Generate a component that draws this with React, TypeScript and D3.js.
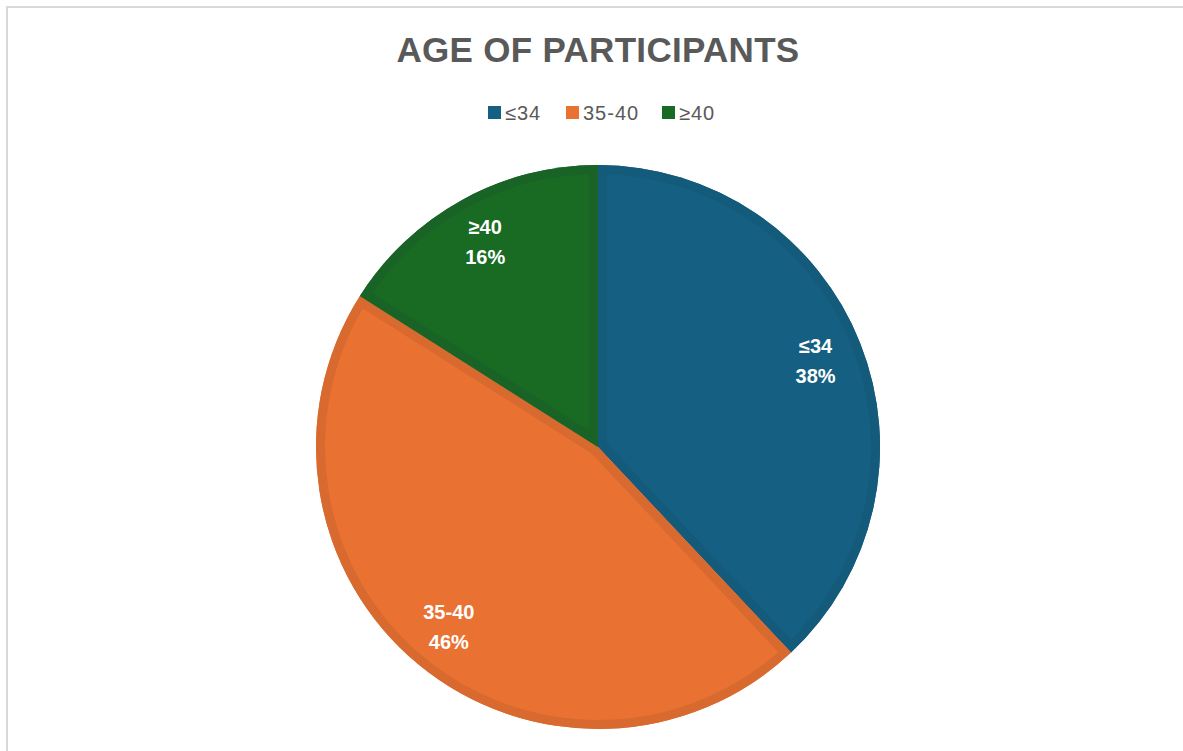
import React, { useEffect, useRef } from "react";
import * as d3 from "d3";

const categories = ["≤34", "35-40", "≥40"];
const values = [38, 46, 16];
const colors = ["#156082", "#E97132", "#196B24"];
const edgeColors = ["#145a7a", "#d8692f", "#186325"];

const App: React.FC = () => {
  const svgRef = useRef<SVGSVGElement | null>(null);

  useEffect(() => {
    if (!svgRef.current) return;
    const width = 1183;
    const height = 751;
    const cx = 598;
    const cy = 447;
    const radius = 282;

    const root = d3.select(svgRef.current);
    root.selectAll("*").remove();
    root.attr("width", width).attr("height", height);

    root.append("rect").attr("width", width).attr("height", height).attr("fill", "#fff");
    root
      .append("rect")
      .attr("x", 7)
      .attr("y", 7)
      .attr("width", width + 20)
      .attr("height", height + 20)
      .attr("fill", "none")
      .attr("stroke", "#d9d9d9")
      .attr("stroke-width", 2);

    const font = "'Liberation Sans', Arial, sans-serif";

    root
      .append("text")
      .attr("x", cx)
      .attr("y", 62)
      .attr("text-anchor", "middle")
      .attr("font-family", font)
      .attr("font-weight", "bold")
      .attr("font-size", 35)
      .attr("letter-spacing", 0.3)
      .attr("fill", "#595959")
      .text("AGE OF PARTICIPANTS");

    // legend
    const legendX = [488, 566, 662];
    const legend = root.append("g");
    categories.forEach((c, i) => {
      legend
        .append("rect")
        .attr("x", legendX[i])
        .attr("y", 106)
        .attr("width", 13)
        .attr("height", 13)
        .attr("fill", colors[i]);
      legend
        .append("text")
        .attr("x", legendX[i] + 17)
        .attr("y", 120)
        .attr("font-family", font)
        .attr("font-size", 20)
        .attr("letter-spacing", 1)
        .attr("fill", "#595959")
        .text(c);
    });

    const pie = d3.pie<number>().sort(null).value((d) => d);
    const arcs = pie(values);
    const arc = d3.arc<d3.PieArcDatum<number>>().innerRadius(0).outerRadius(radius);
    const labelArc = d3
      .arc<d3.PieArcDatum<number>>()
      .innerRadius(radius * 0.83)
      .outerRadius(radius * 0.83);

    const g = root.append("g").attr("transform", `translate(${cx},${cy})`);
    const defs = root.append("defs");

    arcs.forEach((a, i) => {
      const id = `clip-${i}`;
      defs.append("clipPath").attr("id", id).append("path").attr("d", arc(a)!);
      g.append("path").attr("d", arc(a)!).attr("fill", colors[i]);
      g.append("path")
        .attr("d", arc(a)!)
        .attr("fill", "none")
        .attr("stroke", edgeColors[i])
        .attr("stroke-width", 18)
        .attr("stroke-linejoin", "round")
        .attr("clip-path", `url(#${id})`);
    });

    arcs.forEach((a, i) => {
      const [lx, ly] = labelArc.centroid(a);
      const t = g
        .append("text")
        .attr("text-anchor", "middle")
        .attr("font-family", font)
        .attr("font-weight", "bold")
        .attr("font-size", 20)
        .attr("fill", "#fff");
      t.append("tspan").attr("x", lx).attr("y", ly - 8).text(categories[i]);
      t.append("tspan").attr("x", lx).attr("y", ly + 22).text(`${values[i]}%`);
    });
  }, []);

  return <svg ref={svgRef} style={{ position: "absolute", left: 0, top: 0 }}></svg>;
};

export default App;
